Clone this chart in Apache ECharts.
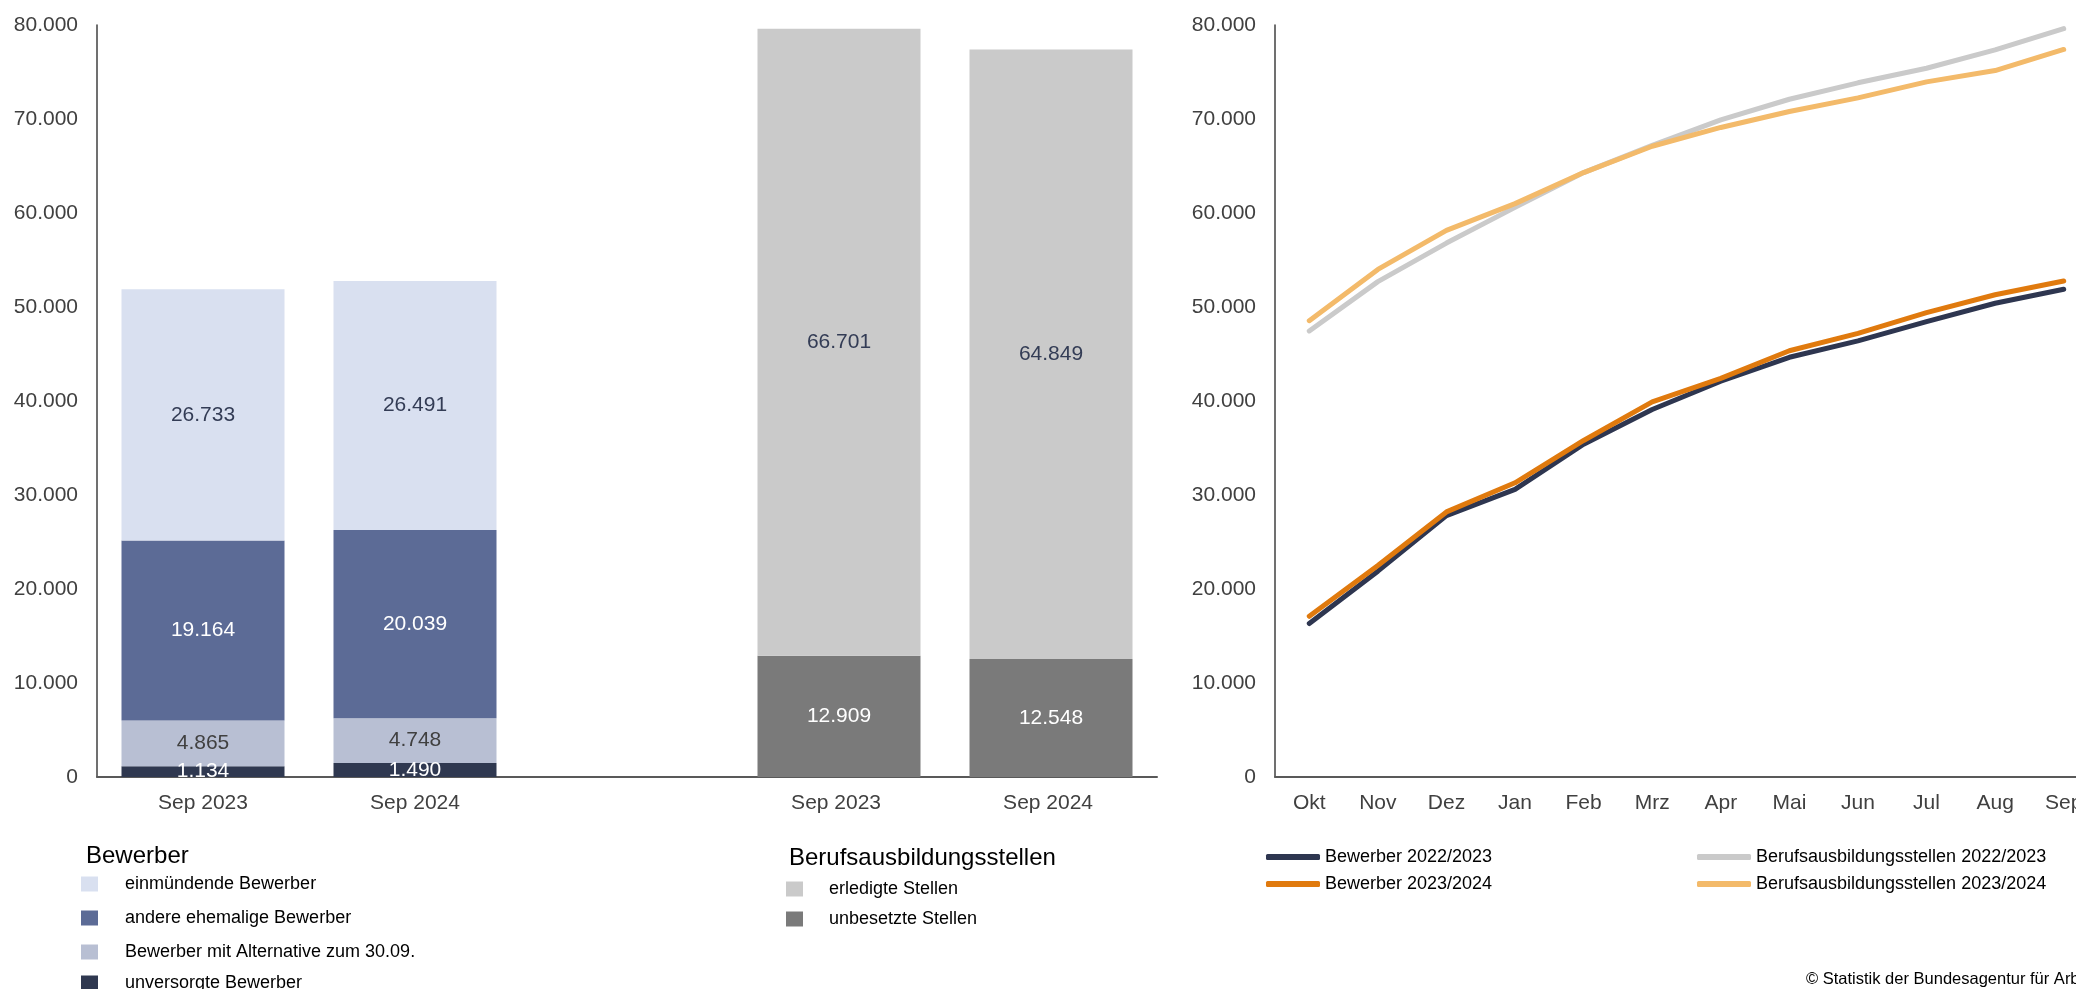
<!DOCTYPE html>
<html>
<head>
<meta charset="utf-8">
<script src="https://cdn.jsdelivr.net/npm/echarts@6/dist/echarts.min.js"></script>
<style>
  html, body { margin: 0; padding: 0; background: #fff; }
  #chart { width: 2076px; height: 989px; }
</style>
</head>
<body>
<div id="chart"></div>
<script>
// left chart: stocks at end of September
const barMonths = ['Sep 2023', 'Sep 2024'];
const unversorgt = [1134, 1490];
const alternative = [4865, 4748];
const andereEhemalige = [19164, 20039];
const einmuendend = [26733, 26491];
const unbesetzt = [12909, 12548];
const erledigt = [66701, 64849];

// right chart: cumulative over the reporting year
const months = ['Okt', 'Nov', 'Dez', 'Jan', 'Feb', 'Mrz', 'Apr', 'Mai', 'Jun', 'Jul', 'Aug', 'Sep'];
const bewerber2223 = [16330, 21900, 27800, 30600, 35400, 39100, 42100, 44650, 46400, 48450, 50400, 51896];
const bewerber2324 = [17100, 22500, 28200, 31300, 35800, 39900, 42400, 45350, 47200, 49400, 51300, 52768];
const stellen2223 = [47450, 52700, 56800, 60600, 64300, 67200, 69900, 72100, 73850, 75400, 77350, 79610];
const stellen2324 = [48550, 54000, 58150, 61000, 64300, 67100, 69100, 70800, 72250, 73950, 75150, 77397];

const FONT = '"Liberation Sans", Arial, sans-serif';
const fmt = v => String(v).replace(/\B(?=(\d{3})+(?!\d))/g, '.');

// one gap slot between the two groups; trailing spaces keep names unique
const barCats = [barMonths[0], barMonths[1], '', barMonths[0] + ' ', barMonths[1] + ' '];
const bew = arr => [arr[0], arr[1], '-', '-', '-'];
const stl = arr => ['-', '-', '-', arr[0], arr[1]];

function barSeries(name, data, color, labelColor) {
    return {
        name: name,
        type: 'bar',
        stack: 'bars',
        xAxisIndex: 0,
        yAxisIndex: 0,
        barWidth: 163,
        data: data,
        itemStyle: { color: color },
        label: {
            show: true,
            position: 'inside',
            color: labelColor,
            fontFamily: FONT,
            fontSize: 21,
            formatter: p => fmt(p.value)
        }
    };
}

function lineSeries(name, data, color) {
    return {
        name: name,
        type: 'line',
        xAxisIndex: 1,
        yAxisIndex: 1,
        data: data,
        symbol: 'none',
        lineStyle: { color: color, width: 5, join: 'round', cap: 'round' },
        itemStyle: { color: color }
    };
}

function boxLegend(names, left, top, gap, pad) {
    return {
        data: names,
        orient: 'vertical', left: left, top: top, padding: 0,
        icon: 'rect', itemWidth: 17, itemHeight: 15, itemGap: gap,
        selectedMode: false,
        textStyle: { color: '#000', fontFamily: FONT, fontSize: 18, lineHeight: 18, padding: [0, 0, 0, pad] }
    };
}

function lineLegend(names, left, top) {
    return {
        data: names,
        orient: 'vertical', left: left, top: top, padding: 0,
        icon: 'roundRect', itemWidth: 54, itemHeight: 6, itemGap: 9,
        selectedMode: false,
        textStyle: { color: '#000', fontFamily: FONT, fontSize: 18, lineHeight: 18 }
    };
}

const axisLabel = { color: '#404040', fontFamily: FONT, fontSize: 21 };

const chart = echarts.init(document.getElementById('chart'), null, { renderer: 'canvas' });
chart.setOption({
    animation: false,
    backgroundColor: '#fff',
    grid: [
        { left: 97, top: 25, width: 1060, height: 752, containLabel: false, outerBoundsMode: 'none' },
        { left: 1275, top: 25, width: 823, height: 752, containLabel: false, outerBoundsMode: 'none' }
    ],
    xAxis: [
        {
            type: 'category', gridIndex: 0, data: barCats,
            axisLine: { lineStyle: { color: '#595959', width: 2 } },
            axisTick: { show: false },
            axisLabel: Object.assign({ interval: 0, margin: 16 }, axisLabel)
        },
        {
            type: 'category', gridIndex: 1, data: months,
            axisLine: { lineStyle: { color: '#595959', width: 2 } },
            axisTick: { show: false },
            axisLabel: Object.assign({ interval: 0, margin: 16 }, axisLabel)
        }
    ],
    yAxis: [0, 1].map(i => ({
        type: 'value', gridIndex: i, min: 0, max: 80000, interval: 10000,
        axisLine: { show: true, lineStyle: { color: '#404040', width: 1.5 } },
        axisTick: { show: false },
        splitLine: { show: false },
        axisLabel: Object.assign({ margin: 19, formatter: fmt }, axisLabel)
    })),
    legend: [
        boxLegend(['einmündende Bewerber', 'andere ehemalige Bewerber', 'Bewerber mit Alternative zum 30.09.'], 81, 875, 16, 22),
        boxLegend(['unversorgte Bewerber'], 81, 974, 16, 22),
        boxLegend(['erledigte Stellen', 'unbesetzte Stellen'], 786, 880, 12, 21),
        lineLegend(['Bewerber 2022/2023', 'Bewerber 2023/2024'], 1266, 848),
        lineLegend(['Berufsausbildungsstellen 2022/2023', 'Berufsausbildungsstellen 2023/2024'], 1697, 848)
    ],
    graphic: [
        { type: 'text', left: 86, top: 844, style: { text: 'Bewerber', fontFamily: FONT, fontSize: 24, fill: '#000' } },
        { type: 'text', left: 789, top: 846, style: { text: 'Berufsausbildungsstellen', fontFamily: FONT, fontSize: 24, fill: '#000' } },
        { type: 'text', x: 1806, y: 971, style: { text: '© Statistik der Bundesagentur für Arbeit', fontFamily: FONT, fontSize: 16.5, fill: '#000' } }
    ],
    series: [
        barSeries('unversorgte Bewerber', bew(unversorgt), '#2f3850', '#fff'),
        barSeries('Bewerber mit Alternative zum 30.09.', bew(alternative), '#b8bfd3', '#404040'),
        barSeries('andere ehemalige Bewerber', bew(andereEhemalige), '#5c6b96', '#fff'),
        barSeries('einmündende Bewerber', bew(einmuendend), '#d9e0f0', '#333c55'),
        barSeries('unbesetzte Stellen', stl(unbesetzt), '#7a7a7a', '#fff'),
        barSeries('erledigte Stellen', stl(erledigt), '#cacaca', '#333c55'),
        lineSeries('Bewerber 2022/2023', bewerber2223, '#2e3650'),
        lineSeries('Berufsausbildungsstellen 2022/2023', stellen2223, '#cacaca'),
        lineSeries('Bewerber 2023/2024', bewerber2324, '#e07a0e'),
        lineSeries('Berufsausbildungsstellen 2023/2024', stellen2324, '#f3ba6a')
    ]
});
</script>
</body>
</html>
